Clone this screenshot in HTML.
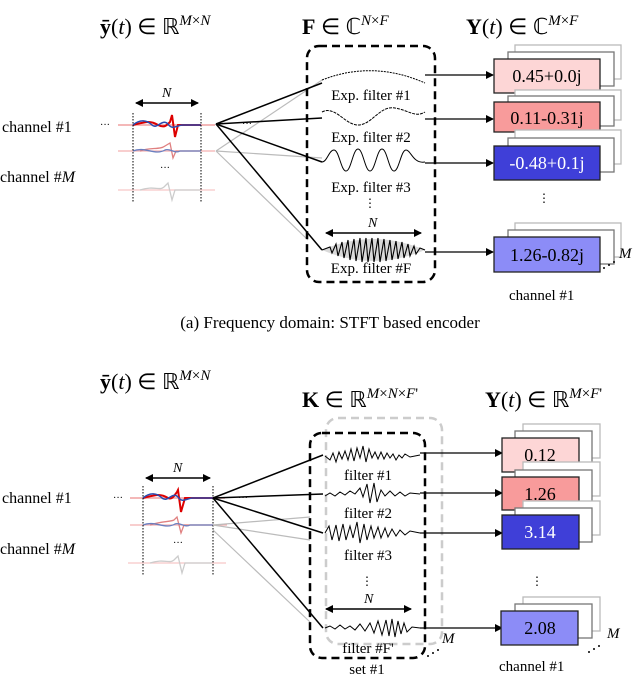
<!DOCTYPE html>
<html><head><meta charset="utf-8"><style>
body{margin:0;background:#fff}
svg{display:block;font-family:"Liberation Serif",serif}
</style></head><body>
<svg width="640" height="678" viewBox="0 0 640 678" xmlns="http://www.w3.org/2000/svg">
<defs>
<marker id="ah" markerWidth="8" markerHeight="8" refX="7" refY="4" orient="auto" markerUnits="userSpaceOnUse"><path d="M0,0 L8,4 L0,8z" fill="#000"/></marker>
<marker id="al" markerWidth="8" markerHeight="8" refX="1" refY="4" orient="auto" markerUnits="userSpaceOnUse"><path d="M8,0 L0,4 L8,8z" fill="#000"/></marker>
</defs>

<!-- ============ TOP =========== -->
<g font-size="22">
<text x="100" y="34"><tspan font-weight="bold">ȳ</tspan>(<tspan font-style="italic">t</tspan>) ∈ ℝ<tspan font-size="15" dy="-9" font-style="italic">M</tspan><tspan font-size="15">×</tspan><tspan font-size="15" font-style="italic">N</tspan></text>
<text x="302" y="34"><tspan font-weight="bold">F</tspan> ∈ ℂ<tspan font-size="15" dy="-9" font-style="italic">N</tspan><tspan font-size="15">×</tspan><tspan font-size="15" font-style="italic">F</tspan></text>
<text x="466" y="34"><tspan font-weight="bold">Y</tspan>(<tspan font-style="italic">t</tspan>) ∈ ℂ<tspan font-size="15" dy="-9" font-style="italic">M</tspan><tspan font-size="15">×</tspan><tspan font-size="15" font-style="italic">F</tspan></text>
</g>
<g font-size="16">
<text x="2" y="132">channel #1</text>
<text x="0" y="182">channel #<tspan font-style="italic">M</tspan></text>
</g>
<!-- signals -->
<g>
<text x="100" y="128" font-size="10">···</text>
<line x1="118" y1="125" x2="215" y2="125" stroke="#f0a0a0" stroke-width="1.5"/>
<path d="M133,125 C145,122 150,120 158,125 C164,128 166,126 170,122 L172,115 L175,137 L178,125 L201,125" fill="none" stroke="#d00" stroke-width="2"/>
<path d="M133,125 C140,119 147,120 152,125 C157,130 162,118 168,124 C172,130 176,126 182,125 L201,125" fill="none" stroke="#2a4bb0" stroke-width="1.5"/>
<line x1="118" y1="151" x2="215" y2="151" stroke="#f3b0b0" stroke-width="1.2"/>
<path d="M140,151 C150,147 160,150 165,146 L170,143 L173,158 L176,151 L200,151" fill="none" stroke="#e08080" stroke-width="1.3"/>
<path d="M133,151 C145,146 155,156 165,150 C170,148 175,154 180,151 L201,151" fill="none" stroke="#6a7fc0" stroke-width="1.3"/>
<text x="160" y="171" font-size="10">···</text>
<line x1="118" y1="190" x2="215" y2="190" stroke="#f6c8c8" stroke-width="1.2"/>
<path d="M140,190 C155,185 160,192 165,186 L168,183 L172,200 L175,190 L200,190" fill="none" stroke="#ccc" stroke-width="1.3"/>
<g stroke="#000" stroke-width="1" stroke-dasharray="1.5,1.5">
<line x1="133" y1="113" x2="133" y2="202"/><line x1="201" y1="113" x2="201" y2="202"/>
</g>
<line x1="136" y1="103" x2="198" y2="103" stroke="#000" stroke-width="1.5" marker-end="url(#ah)" marker-start="url(#al)"/>
<text x="162" y="97" font-size="14" font-style="italic">N</text>
</g>
<g stroke="#bbb" stroke-width="1.2" fill="none">
<line x1="216" y1="151" x2="322" y2="80"/><line x1="216" y1="151" x2="322" y2="158"/><line x1="216" y1="151" x2="308" y2="240"/>
</g>
<g stroke="#000" stroke-width="1.5" fill="none">
<line x1="216" y1="124" x2="322" y2="83"/><line x1="216" y1="124" x2="322" y2="118"/><line x1="216" y1="124" x2="322" y2="162"/><line x1="216" y1="124" x2="322" y2="250"/>
</g>
<text x="242" y="127" font-size="10">···</text>
<rect x="307" y="46" width="128" height="236" rx="12" fill="none" stroke="#000" stroke-width="2.5" stroke-dasharray="8,5"/>
<g fill="none" stroke="#000" stroke-width="1">
<path d="M322,80 Q373,60 425,83" stroke-dasharray="2,1"/>
<path d="M322,112 C335,105 345,125 358,125 C372,125 380,105 395,108 C408,110 415,118 425,112" stroke-dasharray="3,1"/>
<path d="M322,162 C327,162 329,150 334,150 C339,150 341,171 346,171 C351,171 353,149 358,149 C363,149 365,171 370,171 C375,171 377,149 382,149 C387,149 389,171 394,171 C399,171 401,150 406,150 C411,150 413,164 425,162"/>
<path d="M322,250 Q373,228 425,250 Q373,272 322,250Z" stroke="none" fill="#000" opacity="0.15"/>
<path d="M322,250 L330,247 L332,253 L336,244 L338,256 L342,242 L344,258 L348,240 L350,260 L354,239 L356,261 L360,238 L362,262 L366,238 L368,262 L372,238 L374,262 L378,238 L380,262 L384,239 L386,261 L390,240 L392,260 L396,241 L398,259 L402,242 L404,258 L408,244 L410,256 L414,246 L416,254 L420,248 L425,250" stroke-width="1.1"/>
</g>
<line x1="326" y1="233" x2="421" y2="233" stroke="#000" stroke-width="1.5" marker-end="url(#ah)" marker-start="url(#al)"/>
<text x="368" y="227" font-size="14" font-style="italic">N</text>
<g font-size="15" text-anchor="middle">
<text x="371" y="100">Exp. filter #1</text>
<text x="371" y="142">Exp. filter #2</text>
<text x="371" y="192">Exp. filter #3</text>
<text x="371" y="273">Exp. filter #F</text>
</g>
<text x="370" y="207" font-size="12" text-anchor="middle">⋮</text>
<g stroke="#000" stroke-width="1.2">
<line x1="425" y1="75" x2="493" y2="75" marker-end="url(#ah)"/>
<line x1="425" y1="119" x2="493" y2="119" marker-end="url(#ah)"/>
<line x1="425" y1="163" x2="493" y2="163" marker-end="url(#ah)"/>
<line x1="425" y1="252" x2="493" y2="252" marker-end="url(#ah)"/>
</g>
<g stroke-width="1.3">
<rect x="515" y="45" width="106" height="34" fill="#fff" stroke="#bbb"/><rect x="508" y="52" width="106" height="34" fill="#fff" stroke="#777"/>
<rect x="494" y="59" width="106" height="34" fill="#fdd6d6" stroke="#222"/>
<rect x="515" y="90" width="106" height="30" fill="#fff" stroke="#bbb"/><rect x="508" y="96" width="106" height="30" fill="#fff" stroke="#777"/>
<rect x="494" y="102" width="106" height="30" fill="#f89b9b" stroke="#222"/>
<rect x="515" y="130" width="106" height="34" fill="#fff" stroke="#bbb"/><rect x="508" y="138" width="106" height="34" fill="#fff" stroke="#777"/>
<rect x="494" y="146" width="106" height="34" fill="#3f3fd8" stroke="#222"/>
<rect x="515" y="223" width="106" height="34" fill="#fff" stroke="#bbb"/><rect x="508" y="230" width="106" height="34" fill="#fff" stroke="#777"/>
<rect x="494" y="237" width="106" height="35" fill="#8c8cf7" stroke="#222"/>
</g>
<g font-size="18" text-anchor="middle">
<text x="547" y="82">0.45+0.0j</text>
<text x="547" y="124">0.11-0.31j</text>
<text x="547" y="169" fill="#fff">-0.48+0.1j</text>
<text x="547" y="261">1.26-0.82j</text>
</g>
<text x="544" y="202" font-size="12" text-anchor="middle">⋮</text>
<text x="619" y="258" font-size="15" font-style="italic">M</text>
<g fill="#000"><circle cx="604" cy="268" r="1"/><circle cx="609" cy="265" r="1"/><circle cx="614" cy="262" r="1"/></g>
<text x="509" y="300" font-size="15">channel #1</text>
<text x="330" y="328" font-size="17" text-anchor="middle">(a) Frequency domain: STFT based encoder</text>

<!-- ============ BOTTOM =========== -->
<g font-size="22">
<text x="100" y="389"><tspan font-weight="bold">ȳ</tspan>(<tspan font-style="italic">t</tspan>) ∈ ℝ<tspan font-size="15" dy="-9" font-style="italic">M</tspan><tspan font-size="15">×</tspan><tspan font-size="15" font-style="italic">N</tspan></text>
<text x="302" y="407"><tspan font-weight="bold">K</tspan> ∈ ℝ<tspan font-size="15" dy="-9" font-style="italic">M</tspan><tspan font-size="15">×</tspan><tspan font-size="15" font-style="italic">N</tspan><tspan font-size="15">×</tspan><tspan font-size="15" font-style="italic">F</tspan><tspan font-size="15">'</tspan></text>
<text x="485" y="407"><tspan font-weight="bold">Y</tspan>(<tspan font-style="italic">t</tspan>) ∈ ℝ<tspan font-size="15" dy="-9" font-style="italic">M</tspan><tspan font-size="15">×</tspan><tspan font-size="15" font-style="italic">F</tspan><tspan font-size="15">'</tspan></text>
</g>
<g font-size="16">
<text x="2" y="503">channel #1</text>
<text x="0" y="554">channel #<tspan font-style="italic">M</tspan></text>
</g>
<g>
<text x="113" y="501" font-size="10">···</text>
<line x1="130" y1="498" x2="225" y2="498" stroke="#f0a0a0" stroke-width="1.5"/>
<path d="M143,498 C155,495 160,493 168,498 C172,500 174,496 177,492 L178,490 L181,512 L185,498 L213,498" fill="none" stroke="#d00" stroke-width="2"/>
<path d="M143,498 C150,492 157,493 162,498 C168,503 172,491 178,497 C182,503 186,499 192,498 L213,498" fill="none" stroke="#2a4bb0" stroke-width="1.5"/>
<line x1="130" y1="525" x2="227" y2="525" stroke="#f3b0b0" stroke-width="1.2"/>
<path d="M150,525 C162,521 170,522 174,520 L177,517 L181,533 L184,525 L212,525" fill="none" stroke="#e08080" stroke-width="1.3"/>
<path d="M143,525 C155,520 165,530 175,524 C180,522 185,528 190,525 L213,525" fill="none" stroke="#6a7fc0" stroke-width="1.3"/>
<text x="173" y="546" font-size="10">···</text>
<line x1="128" y1="563" x2="226" y2="563" stroke="#f6c8c8" stroke-width="1.2"/>
<path d="M150,563 C165,558 170,565 175,559 L178,556 L182,573 L185,563 L212,563" fill="none" stroke="#ccc" stroke-width="1.3"/>
<g stroke="#000" stroke-width="1" stroke-dasharray="1.5,1.5">
<line x1="143" y1="486" x2="143" y2="576"/><line x1="213" y1="486" x2="213" y2="576"/>
</g>
<line x1="146" y1="478" x2="210" y2="478" stroke="#000" stroke-width="1.5" marker-end="url(#ah)" marker-start="url(#al)"/>
<text x="173" y="472" font-size="14" font-style="italic">N</text>
</g>
<g stroke="#bbb" stroke-width="1.2" fill="none">
<line x1="213" y1="525" x2="310" y2="517"/><line x1="213" y1="525" x2="310" y2="540"/><line x1="213" y1="530" x2="310" y2="622"/>
</g>
<g stroke="#000" stroke-width="1.5" fill="none">
<line x1="213" y1="498" x2="323" y2="455"/><line x1="213" y1="498" x2="323" y2="494"/><line x1="213" y1="498" x2="323" y2="533"/><line x1="213" y1="498" x2="323" y2="628"/>
</g>
<text x="238" y="501" font-size="10">···</text>
<rect x="326" y="418" width="116" height="226" rx="12" fill="none" stroke="#ccc" stroke-width="2.5" stroke-dasharray="8,5"/>
<rect x="310" y="433" width="115" height="225" rx="12" fill="none" stroke="#000" stroke-width="2.5" stroke-dasharray="8,5"/>
<g fill="none" stroke="#000" stroke-width="1">
<path d="M325,456 L330,460 L333,453 L336,462 L339,452 L342,459 L345,451 L348,460 L351,449 L354,461 L357,448 L360,458 L363,446 L366,462 L369,449 L372,458 L375,452 L378,459 L381,452 L384,459 L387,453 L390,458 L393,454 L396,460 L399,455 L402,458 L405,454 L410,457 L420,455"/>
<path d="M325,496 L330,493 L335,496 L340,492 L345,495 L350,491 L355,494 L360,488 L363,497 L367,484 L370,503 L374,483 L377,502 L381,490 L385,496 L390,491 L395,496 L400,492 L405,496 L410,493 L420,494"/>
<path d="M325,533 L329,526 L332,540 L336,525 L339,541 L343,524 L346,540 L350,526 L353,538 L357,522 L360,543 L364,524 L367,540 L371,526 L374,538 L378,527 L381,538 L385,528 L388,537 L392,529 L396,536 L400,530 L405,535 L410,531 L420,533"/>
<path d="M325,628 L330,626 L335,629 L340,625 L345,629 L350,626 L355,630 L360,624 L365,631 L370,623 L374,633 L378,621 L382,635 L386,620 L389,636 L392,619 L395,637 L398,621 L401,634 L404,623 L407,632 L412,627 L420,628"/>
</g>
<line x1="326" y1="609" x2="411" y2="609" stroke="#000" stroke-width="1.5" marker-end="url(#ah)" marker-start="url(#al)"/>
<text x="364" y="603" font-size="14" font-style="italic">N</text>
<g font-size="15" text-anchor="middle">
<text x="368" y="480">filter #1</text>
<text x="368" y="518">filter #2</text>
<text x="368" y="560">filter #3</text>
<text x="368" y="653">filter #F'</text>
<text x="367" y="674">set #1</text>
</g>
<text x="367" y="585" font-size="12" text-anchor="middle">⋮</text>
<text x="442" y="643" font-size="15" font-style="italic">M</text>
<g fill="#000"><circle cx="428" cy="656" r="1"/><circle cx="433" cy="653" r="1"/><circle cx="438" cy="650" r="1"/></g>
<g stroke="#000" stroke-width="1.2">
<line x1="420" y1="453" x2="502" y2="453" marker-end="url(#ah)"/>
<line x1="420" y1="493" x2="502" y2="493" marker-end="url(#ah)"/>
<line x1="420" y1="533" x2="502" y2="533" marker-end="url(#ah)"/>
<line x1="420" y1="628" x2="502" y2="628" marker-end="url(#ah)"/>
</g>
<g stroke-width="1.3">
<rect x="523" y="424" width="77" height="34" fill="#fff" stroke="#bbb"/><rect x="515" y="431" width="77" height="34" fill="#fff" stroke="#777"/>
<rect x="502" y="438" width="77" height="34" fill="#fdd6d6" stroke="#222"/>
<rect x="523" y="462" width="77" height="34" fill="#fff" stroke="#bbb"/><rect x="515" y="470" width="77" height="34" fill="#fff" stroke="#777"/>
<rect x="502" y="477" width="77" height="33" fill="#f89b9b" stroke="#222"/>
<rect x="523" y="501" width="77" height="34" fill="#fff" stroke="#bbb"/><rect x="515" y="508" width="77" height="34" fill="#fff" stroke="#777"/>
<rect x="502" y="515" width="77" height="34" fill="#3f3fd8" stroke="#222"/>
<rect x="523" y="597" width="77" height="34" fill="#fff" stroke="#bbb"/><rect x="515" y="604" width="77" height="34" fill="#fff" stroke="#777"/>
<rect x="501" y="611" width="77" height="34" fill="#8c8cf7" stroke="#222"/>
</g>
<g font-size="18" text-anchor="middle">
<text x="540" y="461">0.12</text>
<text x="540" y="500">1.26</text>
<text x="540" y="538" fill="#fff">3.14</text>
<text x="540" y="634">2.08</text>
</g>
<text x="537" y="585" font-size="12" text-anchor="middle">⋮</text>
<text x="607" y="638" font-size="15" font-style="italic">M</text>
<g fill="#000"><circle cx="589" cy="652" r="1"/><circle cx="594" cy="649" r="1"/><circle cx="599" cy="646" r="1"/></g>
<text x="499" y="671" font-size="15">channel #1</text>
</svg>
</body></html>
